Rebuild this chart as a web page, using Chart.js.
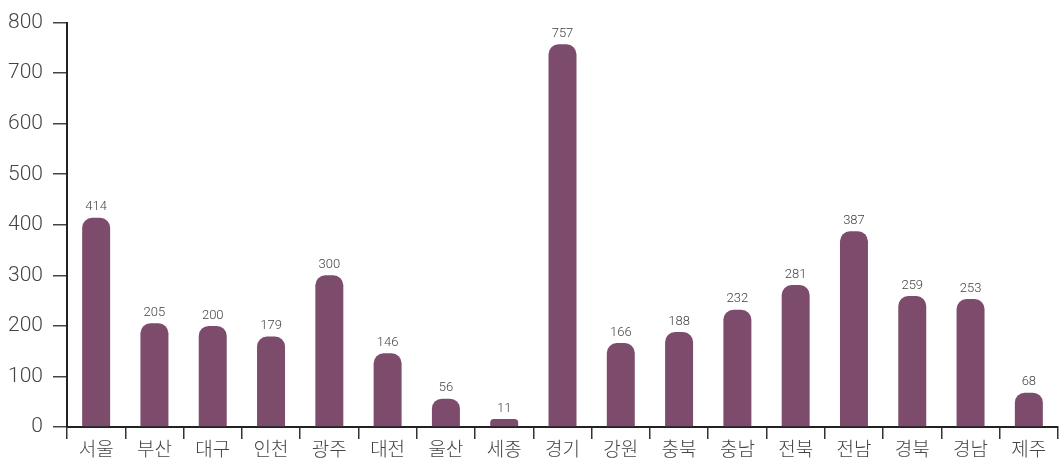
<!DOCTYPE html>
<html><head><meta charset="utf-8">
<script src="https://cdn.jsdelivr.net/npm/chart.js@4/dist/chart.umd.min.js"></script>
<style>html,body{margin:0;padding:0;background:#fff}#wrap{width:1061px;height:460px}</style>
</head><body><div id="wrap"><canvas id="c"></canvas></div>
<script>
const categories = ["서울","부산","대구","인천","광주","대전","울산","세종","경기","강원","충북","충남","전북","전남","경북","경남","제주"];
const values = [414,205,200,179,300,146,56,11,757,166,188,232,281,387,259,253,68];
const yTicks = [0,100,200,300,400,500,600,700,800];

const FONT = "Roboto, 'Noto Sans CJK KR', sans-serif";
const labelPlugin = {
  id: 'valLabels',
  afterDatasetsDraw(chart) {
    const ctx = chart.ctx;
    const meta = chart.getDatasetMeta(0);
    ctx.save();
    ctx.font = "300 13px " + FONT;
    ctx.fillStyle = "#444";
    ctx.textAlign = "center";
    ctx.textBaseline = "bottom";
    meta.data.forEach((bar, i) => {
      ctx.fillText(String(values[i]), bar.x, bar.y - 4);
    });
    ctx.restore();
  }
};

new Chart(document.getElementById('c'), {
  type: 'bar',
  data: {
    labels: categories,
    datasets: [{
      data: values,
      backgroundColor: '#7d4b6b',
      borderRadius: {topLeft: 10, topRight: 10, bottomLeft: 0, bottomRight: 0},
      borderSkipped: 'bottom',
      minBarLength: 8,
      categoryPercentage: 1.0,
      barPercentage: 0.48
    }]
  },
  plugins: [labelPlugin],
  options: {
    responsive: true,
    maintainAspectRatio: false,
    animation: false,
    layout: { padding: { top: 20, right: 3, left: 0, bottom: 0 } },
    plugins: { legend: { display: false }, tooltip: { enabled: false } },
    scales: {
      x: {
        offset: true,
        grid: { display: true, offset: true, drawOnChartArea: false, drawTicks: true, tickLength: 12, color: '#333', lineWidth: 1.5 },
        border: { display: true, color: '#222', width: 2 },
        ticks: { color: '#444', font: { family: "'Noto Sans CJK KR', sans-serif", size: 19, weight: 300 }, padding: -2, maxRotation: 0, autoSkip: false },
        afterFit(s) { s.height = 33; }
      },
      y: {
        min: 0, max: 800,
        afterBuildTicks(s) { s.ticks = yTicks.map(v => ({ value: v })); },
        grid: { display: true, drawOnChartArea: false, drawTicks: true, tickLength: 14, color: '#444', lineWidth: 1.5 },
        border: { display: true, color: '#222', width: 2 },
        ticks: { color: '#444', font: { family: FONT, size: 21, weight: 300 }, padding: 10 },
        afterFit(s) { s.width = 67; }
      }
    }
  }
});
</script>
</body></html>
